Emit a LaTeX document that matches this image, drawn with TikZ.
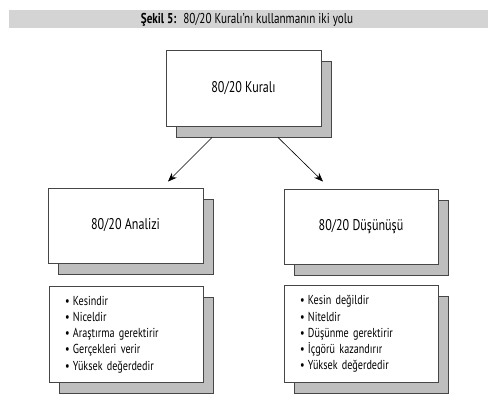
\documentclass[tikz,border=0pt]{standalone}
\usepackage{fontspec}
\setmainfont[FakeStretch=0.78]{PT Sans}
\usetikzlibrary{shadows,arrows.meta,calc}
\definecolor{barbg}{RGB}{212,212,212}
\definecolor{shadowgray}{RGB}{190,190,190}
\definecolor{edgegray}{RGB}{70,70,70}
\begin{document}
\begin{tikzpicture}[x=1pt,y=-1pt,
  box/.style={draw=edgegray, line width=0.9pt, fill=white, inner sep=0pt,
    general shadow={shadow xshift=10pt, shadow yshift=-11pt, fill=shadowgray, draw=edgegray, line width=0.9pt}},
  titlebox/.style={box, minimum width=155pt, minimum height=76pt, font=\fontsize{15.5}{18}\selectfont},
  listbox/.style={box, minimum width=154pt, minimum height=96pt, align=left,
    text width=122pt, inner xsep=16pt, font=\fontsize{13}{16.2}\selectfont},
  arr/.style={-{Stealth[length=9pt,width=7pt]}, line width=0.6pt, black}
]
\useasboundingbox (0,0) rectangle (498,409);
\fill[barbg] (9,10) rectangle (488,28);
\node[font=\fontsize{14.3}{15}\selectfont] (title) at (247,19.5) {\textbf{Şekil 5:}\hspace{3pt} 80/20 Kuralı’nı kullanmanın iki yolu};

\node[titlebox] (rule) at (243.5,88) {80/20 Kuralı};
\node[titlebox, minimum height=75pt] (anal) at (125.5,225.5) {80/20 Analizi};
\node[titlebox, minimum width=154pt, minimum height=75pt] (think) at (361,226.5) {80/20 Düşünüşü};

\node[listbox] (alist) at (126,334.5) {%
\makebox[8pt][l]{\textbullet}Kesindir\\
\makebox[8pt][l]{\textbullet}Niceldir\\
\makebox[8pt][l]{\textbullet}Araştırma gerektirir\\
\makebox[8pt][l]{\textbullet}Gerçekleri verir\\
\makebox[8pt][l]{\textbullet}Yüksek değerdedir};
\node[listbox, minimum height=97pt] (tlist) at (361,334) {%
\makebox[8pt][l]{\textbullet}Kesin değildir\\
\makebox[8pt][l]{\textbullet}Niteldir\\
\makebox[8pt][l]{\textbullet}Düşünme gerektirir\\
\makebox[8pt][l]{\textbullet}İçgörü kazandırır\\
\makebox[8pt][l]{\textbullet}Yüksek değerdedir};

\coordinate (s1) at ($(rule.south)+(-31.5,11)$);
\coordinate (s2) at ($(rule.south)+(34.5,11)$);
\coordinate (e1) at ($(anal.north)+(42.5,-6)$);
\coordinate (e2) at ($(think.north)+(-38,-7)$);
\draw[arr] (s1) -- (e1);
\draw[arr] (s2) -- (e2);
\end{tikzpicture}
\end{document}
